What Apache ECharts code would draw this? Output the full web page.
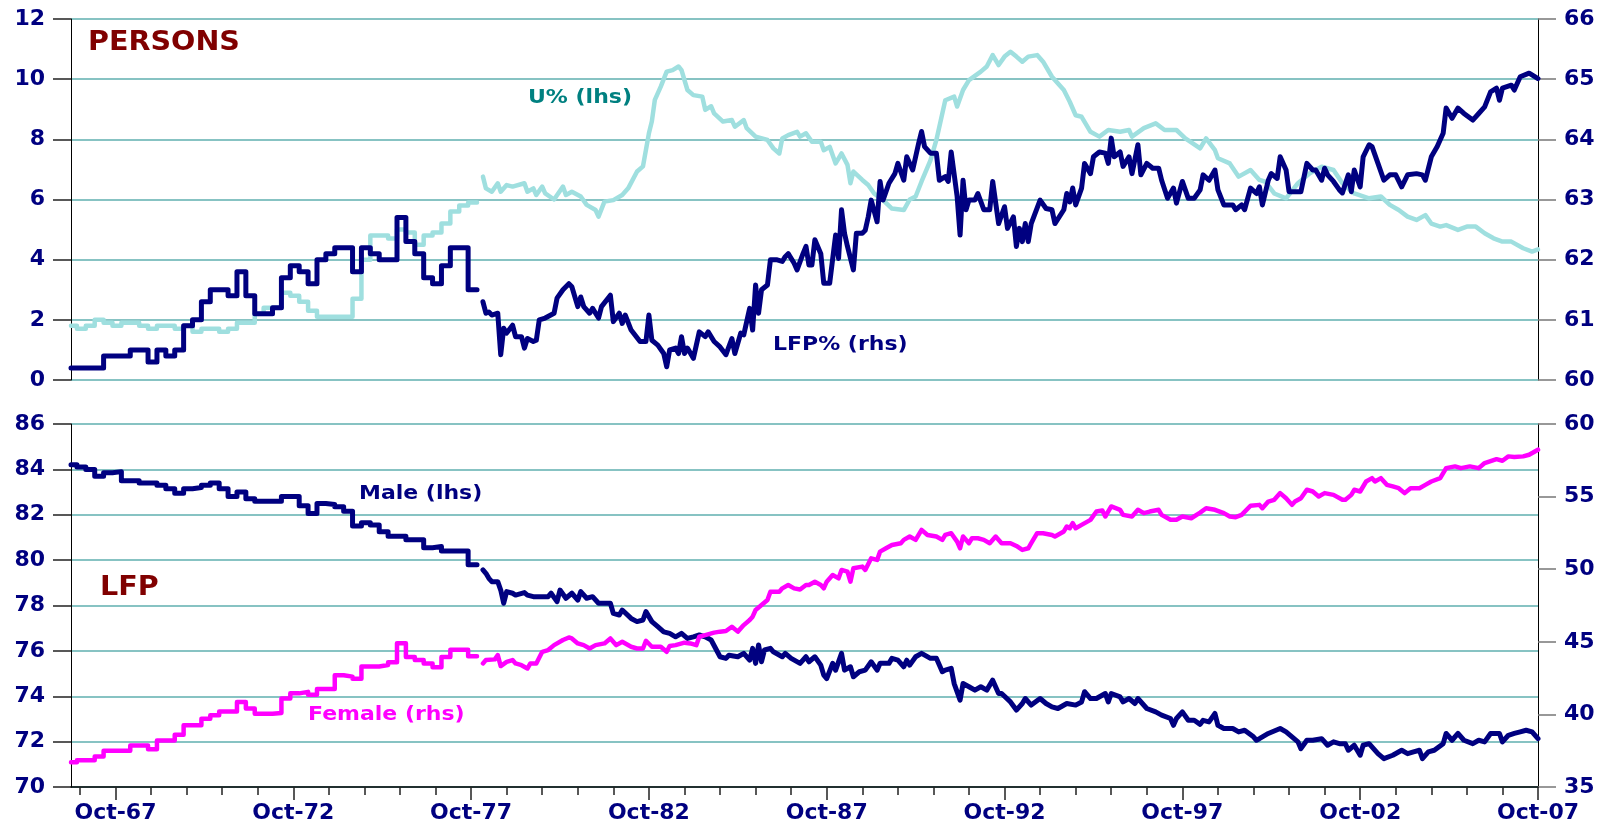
<!DOCTYPE html>
<html>
<head>
<meta charset="utf-8">
<title>Persons / LFP</title>
<script src="https://cdn.jsdelivr.net/npm/echarts@6.0.0/dist/echarts.min.js"></script>
<style>
  html, body { margin: 0; padding: 0; background: #fff; }
  #chart { width: 1605px; height: 825px; }
</style>
</head>
<body>
<div id="chart"></div>
<script>
// monthly categories Jul-66 .. Oct-07; quarterly data up to Nov-77, monthly from Feb-78
const MONTHS = ['Jan', 'Feb', 'Mar', 'Apr', 'May', 'Jun', 'Jul', 'Aug', 'Sep', 'Oct', 'Nov', 'Dec']
const categories = []
for (let i = 0; i < 496; i++) {
  const m = (6 + i) % 12
  const y = (66 + Math.floor((6 + i) / 12)) % 100
  categories.push(MONTHS[m] + '-' + String(y).padStart(2, '0'))
}

// [month index, value]
// unemployment rate (lhs, top)
const uQtr = [[0,1.8],[2,1.7],[5,1.8],[8,2.0],[11,1.9],[14,1.8],[17,1.9],[23,1.8],[26,1.7],[29,1.8],[35,1.7],[38,1.8],[41,1.6],[44,1.7],[50,1.6],[53,1.7],[56,1.9],[62,2.2],[65,2.4],[71,2.9],[74,2.8],[77,2.6],[80,2.3],[83,2.1],[95,2.7],[98,4.0],[101,4.8],[107,4.7],[110,5.0],[113,4.9],[116,4.5],[119,4.8],[122,4.9],[125,5.2],[128,5.6],[131,5.8],[134,5.9],[137,5.9]]
const uMon = [[139,6.76],[140,6.37],[142,6.26],[144,6.54],[145,6.26],[147,6.48],[149,6.43],[153,6.54],[154,6.26],[156,6.37],[157,6.15],[159,6.43],[160,6.2],[163,6.0],[166,6.43],[167,6.15],[169,6.26],[172,6.1],[174,5.82],[177,5.65],[178,5.43],[180,5.93],[183,5.98],[186,6.15],[188,6.37],[191,6.93],[193,7.1],[195,8.2],[196,8.6],[197,9.31],[199,9.75],[201,10.25],[203,10.3],[205,10.42],[206,10.3],[208,9.64],[210,9.47],[213,9.42],[214,8.98],[216,9.1],[217,8.86],[220,8.59],[223,8.64],[224,8.42],[227,8.64],[228,8.37],[231,8.09],[235,7.98],[237,7.7],[239,7.53],[240,8.03],[242,8.14],[245,8.25],[246,8.09],[248,8.2],[250,7.92],[253,7.92],[254,7.64],[256,7.75],[258,7.2],[260,7.53],[262,7.15],[263,6.54],[264,6.93],[267,6.65],[269,6.48],[271,6.2],[274,5.98],[277,5.7],[281,5.65],[283,6.0],[285,6.1],[287,6.6],[290,7.3],[292,7.98],[295,9.3],[298,9.42],[299,9.09],[301,9.64],[303,9.97],[307,10.25],[309,10.42],[311,10.8],[313,10.47],[315,10.75],[317,10.91],[319,10.75],[321,10.58],[323,10.75],[326,10.8],[328,10.58],[331,10.08],[335,9.64],[337,9.25],[339,8.8],[341,8.75],[344,8.25],[347,8.09],[350,8.31],[354,8.25],[357,8.31],[358,8.09],[362,8.37],[366,8.53],[369,8.31],[373,8.31],[376,8.03],[381,7.7],[383,8.03],[386,7.64],[387,7.37],[391,7.2],[394,6.76],[398,6.98],[401,6.65],[403,6.59],[406,6.2],[410,6.04],[414,6.54],[418,6.87],[422,7.09],[426,6.98],[429,6.54],[433,6.2],[438,6.04],[442,6.1],[445,5.82],[448,5.65],[451,5.43],[454,5.32],[457,5.48],[459,5.2],[462,5.1],[464,5.15],[468,4.99],[471,5.1],[474,5.1],[477,4.88],[480,4.71],[483,4.6],[486,4.6],[490,4.38],[493,4.27],[495,4.34]]

// persons participation rate (rhs, top)
const lfpQtr = [[0,60.2],[11,60.4],[20,60.5],[26,60.3],[29,60.5],[32,60.4],[35,60.5],[38,60.9],[41,61.0],[44,61.3],[47,61.5],[53,61.4],[56,61.8],[59,61.4],[62,61.1],[68,61.2],[71,61.7],[74,61.9],[77,61.8],[80,61.6],[83,62.0],[86,62.1],[89,62.2],[95,61.8],[98,62.2],[101,62.1],[104,62.0],[110,62.7],[113,62.3],[116,62.1],[119,61.7],[122,61.6],[125,61.9],[128,62.2],[134,61.5],[137,61.5]]
const lfpMon = [[139,61.3],[140,61.11],[141,61.13],[142,61.08],[144,61.11],[145,60.42],[146,60.86],[147,60.78],[149,60.91],[150,60.72],[152,60.72],[153,60.53],[154,60.69],[156,60.64],[157,60.66],[158,61.0],[160,61.03],[163,61.11],[164,61.36],[166,61.5],[168,61.6],[169,61.55],[171,61.22],[172,61.38],[173,61.22],[175,61.11],[176,61.19],[178,61.03],[179,61.22],[182,61.41],[183,60.97],[185,61.11],[186,60.94],[187,61.08],[189,60.83],[192,60.64],[194,60.64],[195,61.08],[196,60.66],[198,60.58],[200,60.44],[201,60.22],[202,60.5],[204,60.53],[205,60.44],[206,60.72],[207,60.44],[208,60.53],[210,60.36],[212,60.8],[214,60.72],[215,60.8],[217,60.64],[219,60.55],[221,60.42],[223,60.69],[224,60.44],[226,60.78],[227,60.75],[229,61.19],[230,60.83],[231,61.58],[232,61.11],[233,61.5],[235,61.58],[236,62.0],[238,62.0],[240,61.97],[241,62.05],[242,62.1],[244,61.94],[245,61.83],[247,62.1],[248,62.22],[249,61.91],[250,61.91],[251,62.33],[253,62.1],[254,61.61],[256,61.61],[258,62.41],[259,62.02],[260,62.83],[261,62.44],[262,62.22],[264,61.83],[265,62.44],[267,62.44],[268,62.49],[269,62.71],[270,62.99],[272,62.63],[273,63.3],[274,62.99],[276,63.27],[278,63.43],[279,63.6],[281,63.32],[282,63.71],[284,63.49],[285,63.71],[286,63.93],[287,64.13],[288,63.88],[290,63.77],[292,63.77],[293,63.32],[295,63.38],[296,63.3],[297,63.79],[299,63.05],[300,62.41],[301,63.32],[302,62.83],[303,62.99],[305,62.99],[306,63.1],[308,62.83],[310,62.83],[311,63.3],[313,62.6],[315,62.88],[316,62.52],[318,62.71],[319,62.22],[320,62.52],[321,62.3],[322,62.6],[323,62.3],[324,62.6],[327,62.99],[329,62.85],[331,62.83],[332,62.6],[335,62.83],[336,63.1],[337,62.96],[338,63.19],[339,62.91],[341,63.19],[342,63.6],[344,63.43],[345,63.71],[347,63.79],[349,63.77],[350,63.6],[351,64.02],[352,63.71],[354,63.79],[355,63.55],[357,63.71],[358,63.43],[360,63.91],[361,63.41],[363,63.6],[365,63.52],[367,63.52],[368,63.32],[370,63.02],[372,63.19],[373,62.94],[375,63.3],[377,63.02],[379,63.02],[381,63.16],[382,63.41],[384,63.32],[386,63.49],[387,63.16],[389,62.91],[392,62.91],[393,62.83],[395,62.91],[396,62.83],[398,63.19],[400,63.1],[401,63.21],[402,62.91],[404,63.32],[405,63.43],[407,63.35],[408,63.71],[410,63.49],[411,63.13],[413,63.13],[415,63.13],[417,63.6],[419,63.49],[420,63.49],[422,63.32],[423,63.52],[424,63.41],[426,63.3],[428,63.16],[429,63.11],[431,63.41],[432,63.13],[433,63.49],[435,63.21],[436,63.71],[438,63.91],[439,63.88],[441,63.6],[443,63.32],[445,63.41],[447,63.41],[449,63.21],[451,63.41],[454,63.43],[456,63.41],[457,63.32],[459,63.71],[461,63.88],[463,64.1],[464,64.52],[466,64.35],[468,64.52],[470,64.43],[473,64.32],[475,64.43],[477,64.54],[479,64.79],[481,64.85],[482,64.65],[483,64.85],[486,64.9],[487,64.82],[489,65.04],[492,65.1],[495,65.01]]

// male participation rate (lhs, bottom)
const maleQtr = [[0,84.2],[2,84.1],[5,84.0],[8,83.7],[11,83.85],[14,83.9],[17,83.5],[23,83.4],[29,83.3],[32,83.15],[35,82.95],[38,83.15],[41,83.2],[44,83.3],[47,83.4],[50,83.15],[53,82.8],[56,83.0],[59,82.7],[62,82.6],[71,82.8],[77,82.4],[80,82.05],[83,82.5],[86,82.45],[89,82.35],[92,82.15],[95,81.5],[98,81.65],[101,81.55],[104,81.25],[107,81.05],[113,80.9],[119,80.55],[122,80.6],[125,80.4],[134,79.8],[137,79.8]]
const maleMon = [[139,79.57],[140,79.42],[141,79.2],[142,79.05],[144,79.05],[145,78.68],[146,78.1],[147,78.61],[149,78.54],[150,78.46],[153,78.57],[154,78.46],[156,78.39],[158,78.39],[159,78.39],[161,78.39],[162,78.54],[164,78.17],[165,78.68],[167,78.32],[169,78.54],[171,78.24],[172,78.61],[174,78.32],[176,78.39],[178,78.1],[180,78.1],[182,78.1],[183,77.65],[185,77.58],[186,77.8],[189,77.43],[191,77.29],[193,77.36],[194,77.73],[196,77.29],[198,77.07],[200,76.84],[202,76.77],[204,76.62],[206,76.77],[208,76.55],[210,76.62],[212,76.7],[214,76.62],[216,76.48],[219,75.74],[221,75.67],[222,75.81],[225,75.74],[227,75.89],[229,75.59],[230,76.11],[231,75.45],[232,76.26],[233,75.52],[234,76.04],[236,76.11],[237,75.96],[240,75.74],[241,75.89],[243,75.67],[246,75.45],[248,75.74],[249,75.52],[251,75.74],[253,75.37],[254,74.93],[255,74.78],[257,75.45],[258,75.15],[260,75.89],[261,75.15],[263,75.3],[264,74.86],[266,75.08],[268,75.15],[270,75.52],[272,75.15],[273,75.45],[276,75.45],[277,75.67],[279,75.59],[281,75.3],[282,75.59],[283,75.37],[285,75.74],[287,75.89],[290,75.67],[292,75.67],[294,75.08],[295,75.15],[297,75.23],[298,74.56],[300,73.83],[301,74.56],[303,74.42],[305,74.27],[307,74.42],[309,74.27],[311,74.71],[313,74.12],[314,74.12],[317,73.75],[319,73.39],[321,73.68],[322,73.9],[324,73.61],[327,73.9],[329,73.68],[331,73.53],[333,73.46],[336,73.68],[339,73.61],[341,73.75],[342,74.2],[344,73.9],[346,73.9],[349,74.12],[350,73.75],[351,74.12],[354,73.97],[355,73.75],[357,73.9],[359,73.68],[360,73.9],[363,73.46],[366,73.31],[368,73.17],[371,73.02],[372,72.72],[373,73.02],[375,73.31],[377,72.94],[379,72.94],[381,72.76],[382,72.94],[384,72.87],[386,73.24],[387,72.72],[389,72.58],[392,72.58],[394,72.43],[396,72.5],[399,72.21],[400,72.06],[401,72.13],[404,72.36],[408,72.58],[410,72.43],[412,72.21],[414,71.99],[415,71.69],[417,72.06],[419,72.06],[422,72.13],[424,71.84],[426,71.99],[428,71.91],[430,71.91],[431,71.62],[433,71.84],[435,71.4],[436,71.84],[438,71.91],[441,71.47],[443,71.25],[446,71.4],[449,71.62],[451,71.47],[453,71.55],[455,71.62],[456,71.25],[458,71.55],[460,71.62],[463,71.91],[464,72.36],[466,72.06],[468,72.36],[470,72.06],[473,71.91],[475,72.06],[477,71.99],[479,72.36],[482,72.36],[483,71.99],[485,72.28],[487,72.36],[489,72.43],[491,72.5],[493,72.43],[495,72.13]]

// female participation rate (rhs, bottom)
const femQtr = [[0,36.7],[2,36.85],[8,37.1],[11,37.5],[20,37.85],[26,37.6],[29,38.2],[35,38.6],[38,39.25],[44,39.7],[47,39.95],[50,40.2],[56,40.85],[59,40.4],[62,40.05],[68,40.1],[71,41.1],[74,41.45],[77,41.55],[80,41.35],[83,41.75],[89,42.7],[92,42.6],[95,42.45],[98,43.3],[104,43.4],[107,43.6],[110,44.9],[113,43.95],[116,43.75],[119,43.5],[122,43.25],[125,43.95],[128,44.45],[134,44.0],[137,44.0]]
const femMon = [[139,43.51],[140,43.74],[143,43.79],[144,44.08],[145,43.33],[147,43.62],[149,43.74],[150,43.51],[152,43.39],[154,43.16],[155,43.51],[157,43.51],[159,44.31],[161,44.43],[163,44.77],[166,45.12],[168,45.3],[169,45.23],[171,44.89],[173,44.77],[175,44.54],[177,44.77],[180,44.89],[182,45.23],[184,44.77],[186,45.0],[189,44.66],[191,44.54],[193,44.54],[194,45.07],[196,44.66],[199,44.66],[201,44.31],[202,44.71],[204,44.77],[207,44.94],[209,44.89],[211,44.77],[212,45.35],[214,45.46],[217,45.63],[219,45.7],[221,45.74],[223,46.04],[225,45.7],[227,46.15],[229,46.5],[230,46.73],[231,47.19],[233,47.53],[235,47.88],[236,48.45],[239,48.45],[240,48.68],[242,48.91],[244,48.68],[246,48.6],[248,48.91],[249,48.91],[251,49.14],[253,48.91],[254,48.68],[255,49.14],[257,49.6],[259,49.37],[260,49.95],[262,49.83],[263,49.14],[264,50.06],[267,50.18],[268,49.95],[270,50.75],[272,50.64],[273,51.21],[275,51.44],[277,51.67],[280,51.79],[281,52.02],[283,52.25],[285,52.02],[287,52.71],[289,52.36],[292,52.25],[294,52.02],[295,52.36],[297,52.48],[299,51.9],[300,51.44],[301,52.25],[303,51.79],[304,52.13],[306,52.13],[308,52.02],[310,51.79],[312,52.25],[314,51.79],[316,51.79],[317,51.79],[319,51.6],[321,51.33],[323,51.44],[324,51.79],[326,52.48],[328,52.48],[331,52.36],[332,52.25],[335,52.6],[336,52.94],[337,52.82],[338,53.17],[339,52.82],[341,53.05],[344,53.4],[346,53.97],[348,54.04],[349,53.63],[351,54.32],[354,54.09],[355,53.74],[358,53.63],[360,54.09],[362,53.86],[364,53.97],[367,54.09],[368,53.74],[371,53.4],[373,53.4],[375,53.63],[378,53.51],[381,53.9],[383,54.2],[386,54.09],[389,53.86],[391,53.63],[393,53.58],[395,53.74],[398,54.37],[401,54.43],[402,54.2],[404,54.66],[406,54.78],[408,55.24],[410,54.89],[412,54.43],[413,54.66],[415,54.89],[417,55.47],[419,55.35],[421,55.01],[423,55.24],[426,55.12],[429,54.78],[430,54.78],[432,55.12],[433,55.47],[435,55.35],[437,56.04],[439,56.27],[440,56.04],[442,56.27],[444,55.81],[446,55.7],[448,55.58],[450,55.24],[452,55.58],[455,55.58],[457,55.81],[459,56.04],[462,56.27],[464,56.96],[467,57.08],[469,56.96],[472,57.08],[475,56.96],[477,57.31],[481,57.58],[483,57.47],[485,57.77],[487,57.72],[490,57.77],[492,57.88],[495,58.23]]

const NAVY = '#000080'
const CYAN = '#9FDFDF'
const MAGENTA = '#FF00FF'
const GRID_LINE = '#5FAFAF'
const FONT = 'DejaVu Sans'

const isOct = (idx, val) => val.indexOf('Oct') === 0
const isMajor = (idx, val) => isOct(idx, val) && Number(val.slice(4)) % 5 === 2

function yAxis(gridIndex, position, min, max, interval, split) {
  return {
    type: 'value', gridIndex, position, min, max, interval,
    axisLine: { show: true, lineStyle: { color: '#000', width: 1 } },
    axisTick: { show: true, inside: false, length: 18, lineStyle: { color: position === 'left' ? '#222' : '#777', width: 1.5 } },
    axisLabel: { color: NAVY, fontFamily: FONT, fontWeight: 'bold', fontSize: 22, margin: 26 },
    splitLine: { show: split, lineStyle: { color: GRID_LINE, width: 1.5 } }
  }
}

function line(name, data, xAxisIndex, yAxisIndex, color, width, step) {
  return {
    name, type: 'line', data, xAxisIndex, yAxisIndex,
    step: step ? 'end' : false,
    showSymbol: false, symbol: 'none',
    lineStyle: { color, width, cap: 'round', join: 'round' },
    silent: true
  }
}

function label(text, x, y, size, color) {
  return {
    type: 'text', x, y, scaleX: 1.1,
    style: { text, font: 'bold ' + size + 'px "' + FONT + '"', fill: color, align: 'left', verticalAlign: 'middle' }
  }
}

const chart = echarts.init(document.getElementById('chart'), null, { renderer: 'canvas' })
chart.setOption({
  animation: false,
  backgroundColor: '#fff',
  textStyle: { fontFamily: FONT },
  grid: [
    { left: 71, right: 67, top: 19, height: 361 },
    { left: 71, right: 67, top: 424, height: 363 },
    { left: 71, right: 67, top: 424, height: 363 }
  ],
  xAxis: [
    {
      type: 'category', gridIndex: 0, data: categories, boundaryGap: false,
      axisLine: { show: false }, axisTick: { show: false }, axisLabel: { show: false }
    },
    {
      type: 'category', gridIndex: 1, data: categories, boundaryGap: false,
      axisLine: { show: true, onZero: false, lineStyle: { color: '#000', width: 1.5 } },
      axisTick: { show: true, interval: isOct, length: 8, lineStyle: { color: '#222', width: 1.5 } },
      axisLabel: { show: false }
    },
    {
      // 5-year ticks and labels
      type: 'category', gridIndex: 2, data: categories, boundaryGap: false,
      axisLine: { show: false },
      axisTick: { show: true, interval: isMajor, length: 13, lineStyle: { color: '#222', width: 1.5 } },
      axisLabel: { show: true, interval: isMajor, color: NAVY, fontFamily: FONT, fontWeight: 'bold', fontSize: 22, margin: 15 }
    }
  ],
  yAxis: [
    yAxis(0, 'left', 0, 12, 2, true),
    yAxis(0, 'right', 60, 66, 1, false),
    yAxis(1, 'left', 70, 86, 2, true),
    yAxis(1, 'right', 35, 60, 5, false),
    { type: 'value', gridIndex: 2, show: false, min: 0, max: 1 }
  ],
  graphic: [
    label('PERSONS', 88, 43, 26, '#800000'),
    label('U% (lhs)', 528, 98, 20, '#008080'),
    label('LFP% (rhs)', 773, 345, 20, NAVY),
    label('Male (lhs)', 359, 494, 20, NAVY),
    label('LFP', 100, 588, 26, '#800000'),
    label('Female (rhs)', 308, 715, 20, MAGENTA)
  ],
  series: [
    line('U% (lhs)', uQtr, 0, 0, CYAN, 4.5, true),
    line('U% (lhs)', uMon, 0, 0, CYAN, 4.5, false),
    line('LFP% (rhs)', lfpQtr, 0, 1, NAVY, 5, true),
    line('LFP% (rhs)', lfpMon, 0, 1, NAVY, 5, false),
    line('Male (lhs)', maleQtr, 1, 2, NAVY, 5, true),
    line('Male (lhs)', maleMon, 1, 2, NAVY, 5, false),
    line('Female (rhs)', femQtr, 1, 3, MAGENTA, 4.5, true),
    line('Female (rhs)', femMon, 1, 3, MAGENTA, 4.5, false)
  ]
})
</script>
</body>
</html>
